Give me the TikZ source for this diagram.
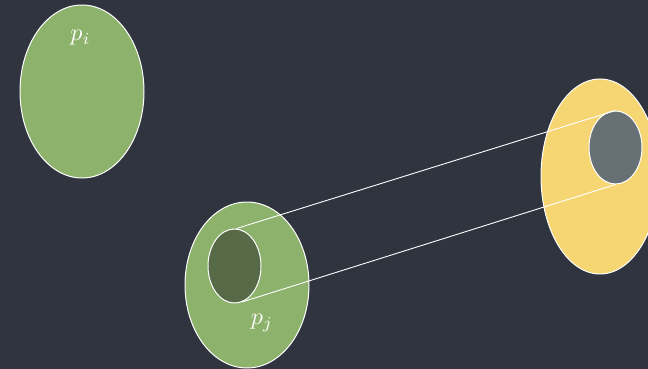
\documentclass[tikz,border=0pt]{standalone}
\usepackage{graphicx}
\usetikzlibrary{shapes.geometric}
\definecolor{bgslate}{RGB}{48,52,63}
\definecolor{chalkgreen}{RGB}{141,178,108}
\definecolor{darkgreen}{RGB}{86,106,72}
\definecolor{chalkyellow}{RGB}{246,214,114}
\definecolor{slategrey}{RGB}{102,112,117}
\newcommand{\biglabel}[1]{\scalebox{2.4}{$#1$}}
\tikzset{
  blob/.style={ellipse, draw=white, line width=1pt, inner sep=0pt},
  link/.style={draw=white, line width=0.9pt},
  lbl/.style={text=white, inner sep=0pt}
}
\begin{document}
\begin{tikzpicture}[x=1pt,y=-1pt]
\useasboundingbox (0,0) rectangle (648,369);
\fill[bgslate] (0,0) rectangle (648,369);
\clip (0,0) rectangle (648,369);
\node[blob, fill=chalkgreen, minimum width=124pt, minimum height=173pt] (pi) at (82,91.5) {};
\node[lbl] (lpi) at (80.5,38) {\biglabel{p_i}};
\node[blob, fill=chalkgreen, minimum width=124pt, minimum height=166pt] (pj) at (247,285) {};
\node[blob, fill=chalkyellow, minimum width=118pt, minimum height=195pt] (py) at (600,176.5) {};
\node[blob, fill=darkgreen, minimum width=53pt, minimum height=74pt] (inA) at (234.5,266) {};
\node[blob, fill=slategrey, minimum width=53pt, minimum height=73pt] (inB) at (615.5,147.5) {};
\node[lbl] (lpj) at (262,323) {\biglabel{p_j}};
\draw[link] ([xshift=2pt]inA.north) -- (inB.north);
\draw[link] (inA.-78) -- (inB.south);
\end{tikzpicture}
\end{document}
